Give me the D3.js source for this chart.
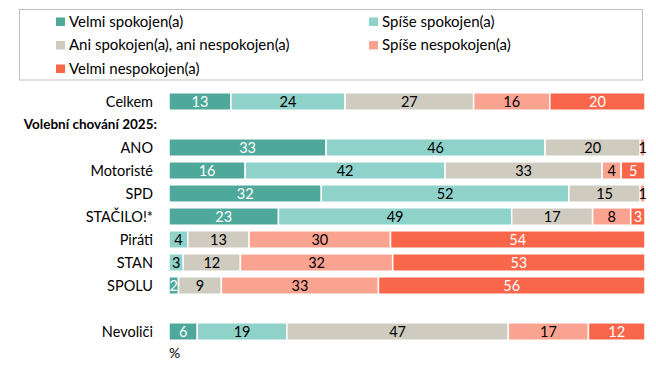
<!DOCTYPE html>
<html><head><meta charset="utf-8">
<script src="https://cdn.jsdelivr.net/npm/d3@7"></script>
<style>body{margin:0;background:#fff}svg{display:block}</style>
</head><body><svg id="c" width="656" height="377"></svg>
<script>
const rows = ["Celkem","__hdr","ANO","Motoristé","SPD","STAČILO!*","Piráti","STAN","SPOLU","__gap","Nevoliči"];
const series = ["Velmi spokojen(a)","Spíše spokojen(a)","Ani spokojen(a), ani nespokojen(a)","Spíše nespokojen(a)","Velmi nespokojen(a)"];
const colors = ["#4EA99B","#8ED2CA","#CFCBBF","#FBA391","#F9664A"];
const textColors = ["#fff","#000","#000","#000","#fff"];
const velmiSpok  = [13,33,16,32,23,0,0,2,6];
const spiseSpok  = [24,46,42,52,49,4,3,0,19];
const ani        = [27,20,33,15,17,13,12,9,47];
const spiseNesp  = [16,1,4,1,8,30,32,33,17];
const velmiNesp  = [20,0,5,0,3,54,53,56,12];
const dataRows = ["Celkem","ANO","Motoristé","SPD","STAČILO!*","Piráti","STAN","SPOLU","Nevoliči"];
const header = "Volební chování 2025:";
const unit = "%";

const svg = d3.select("#c");
const font = "Lato, 'Open Sans', sans-serif";

// legend
svg.append("rect").attr("x",19.5).attr("y",9.5).attr("width",623).attr("height",70.5)
  .attr("fill","#fff").attr("stroke","#BFBFBF");
const legPos = [[56,21.5],[369,21.5],[56,45],[369,45],[56,68.5]];
series.forEach((s,i)=>{
  const [x,y]=legPos[i];
  svg.append("rect").attr("x",x).attr("y",y-4).attr("width",9).attr("height",8.5).attr("fill",colors[i]);
  svg.append("text").attr("x",x+13).attr("y",y).attr("dy","0.35em")
    .attr("font-family",font).attr("font-size",15).attr("fill","#000").text(s);
});

const x = d3.scaleLinear().domain([0,1]).range([169,645]);
const y = d3.scaleBand().domain(rows).range([90,343]).paddingInner(0.24).paddingOuter(0.12);

const table = dataRows.map((r,i)=>{
  const vals=[velmiSpok[i],spiseSpok[i],ani[i],spiseNesp[i],velmiNesp[i]];
  const tot=d3.sum(vals);
  let acc=0;
  return {row:r, segs: vals.map((v,k)=>{const s={k,v,x0:acc/tot,x1:(acc+v)/tot};acc+=v;return s;})};
});

const g = svg.append("g");
table.forEach(d=>{
  const yy=y(d.row), h=y.bandwidth();
  d.segs.filter(s=>s.v>0).forEach(s=>{
    g.append("rect").attr("x",x(s.x0)).attr("y",yy).attr("width",x(s.x1)-x(s.x0)).attr("height",h)
      .attr("fill",colors[s.k]).attr("stroke","#fff").attr("stroke-width",1.5);
    g.append("text").attr("x",(x(s.x0)+x(s.x1))/2).attr("y",yy+h/2).attr("dy","0.36em")
      .attr("text-anchor","middle").attr("font-family",font).attr("font-size",14.5)
      .attr("fill",textColors[s.k]).text(s.v);
  });
  svg.append("text").attr("x",153).attr("y",yy+h/2).attr("dy","0.36em").attr("text-anchor","end")
    .attr("font-family",font).attr("font-size",14.5).attr("fill","#000").text(d.row);
});
svg.append("text").attr("x",157).attr("y",y("__hdr")+y.bandwidth()/2).attr("dy","0.36em").attr("text-anchor","end")
  .attr("font-family",font).attr("font-size",13.5).attr("font-weight","bold").attr("fill","#000").text(header);
svg.append("text").attr("x",169).attr("y",353).attr("dy","0.36em")
  .attr("font-family",font).attr("font-size",14).attr("fill","#000").text(unit);
</script></body></html>
